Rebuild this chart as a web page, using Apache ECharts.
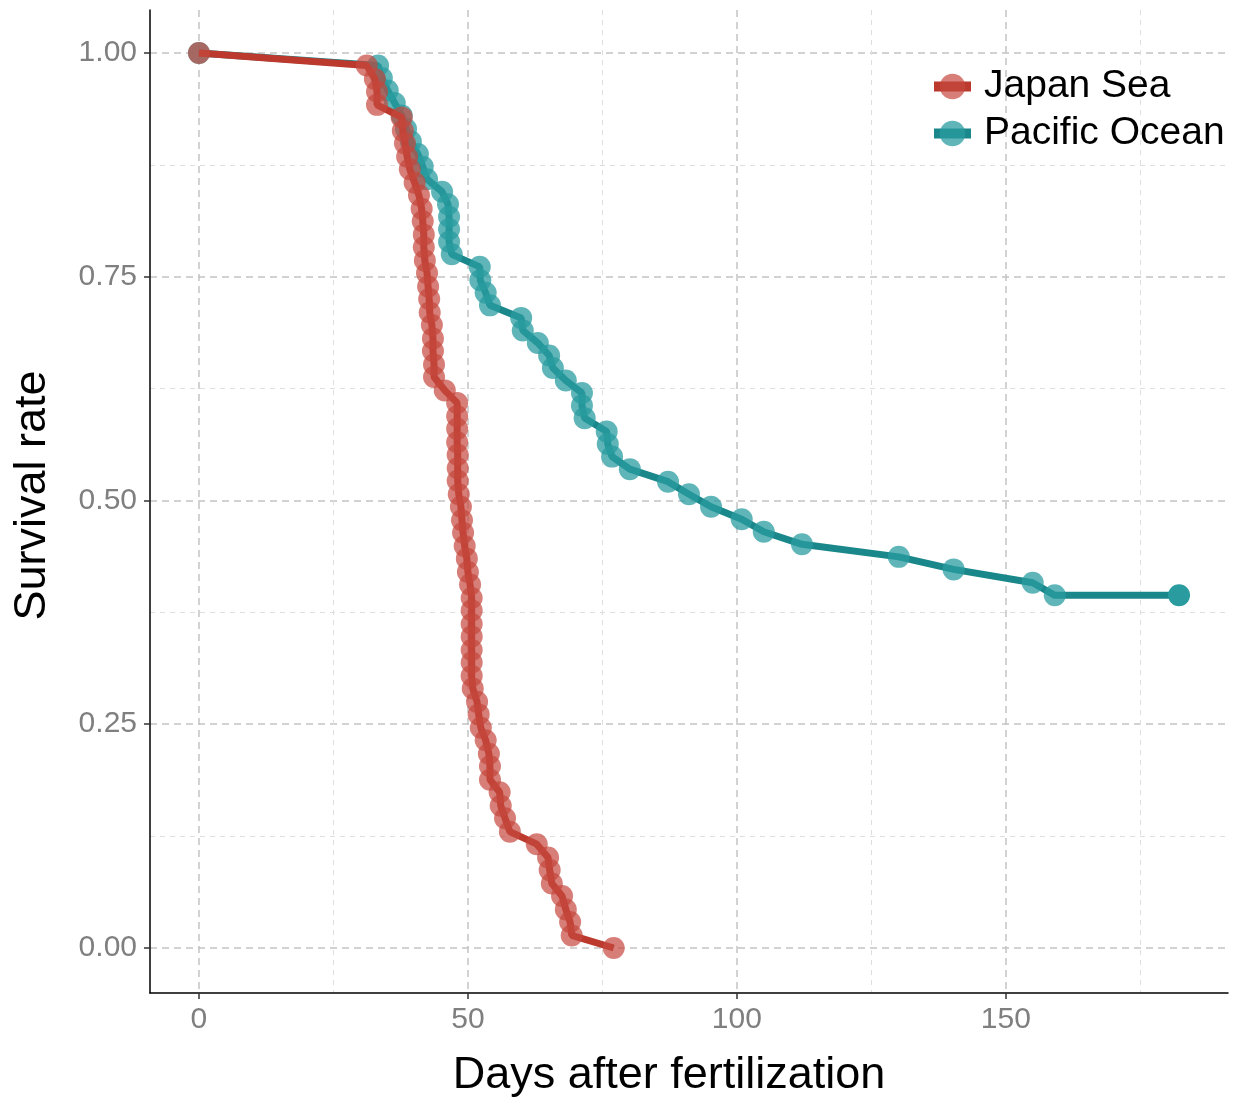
<!DOCTYPE html>
<html>
<head>
<meta charset="utf-8">
<script src="https://cdn.jsdelivr.net/npm/echarts@6/dist/echarts.min.js"></script>
<style>
  html, body { margin: 0; padding: 0; background: #fff; }
  #chart { width: 1233px; height: 1097px; }
</style>
</head>
<body>
<div id="chart"></div>
<script>
// Survival of larvae by origin (days after fertilization vs survival rate)
const japanDays = [0, 31.2, 32.7, 33.1, 33.1, 37.7, 37.9, 38.3, 38.7, 39.2, 40.1, 40.9, 41.4, 41.6, 41.8, 41.8, 42.0, 42.4, 42.6, 42.8, 42.9, 43.3, 43.5, 43.5, 43.7, 43.7, 45.7, 48.0, 48.0, 48.0, 48.0, 48.1, 48.1, 48.1, 48.3, 48.7, 48.9, 49.1, 49.4, 49.8, 50.0, 50.4, 50.7, 50.7, 50.7, 50.7, 50.7, 50.7, 50.7, 50.9, 51.7, 52.0, 52.4, 53.3, 53.9, 54.1, 54.1, 55.9, 56.1, 56.9, 57.8, 62.8, 64.9, 65.2, 65.6, 67.5, 68.2, 69.0, 69.3, 77.1];
const japanSurv = [1, 0.986, 0.971, 0.957, 0.942, 0.928, 0.913, 0.899, 0.884, 0.870, 0.855, 0.841, 0.826, 0.812, 0.797, 0.783, 0.768, 0.754, 0.739, 0.725, 0.710, 0.696, 0.681, 0.667, 0.652, 0.638, 0.623, 0.609, 0.594, 0.580, 0.565, 0.551, 0.536, 0.522, 0.507, 0.493, 0.478, 0.464, 0.449, 0.435, 0.420, 0.406, 0.391, 0.377, 0.362, 0.348, 0.333, 0.319, 0.304, 0.290, 0.275, 0.261, 0.246, 0.232, 0.217, 0.203, 0.188, 0.174, 0.159, 0.145, 0.130, 0.116, 0.101, 0.087, 0.072, 0.058, 0.043, 0.029, 0.014, 0];

const pacificDays = [0, 33.3, 34.0, 35.1, 36.4, 37.7, 38.5, 39.4, 40.7, 41.6, 42.4, 45.2, 46.3, 46.5, 46.5, 46.5, 47.0, 52.2, 52.3, 53.3, 54.1, 59.9, 60.2, 63.0, 65.1, 65.8, 68.2, 71.2, 71.2, 71.7, 75.8, 76.0, 76.8, 80.1, 87.2, 91.1, 95.2, 100.9, 105.0, 112.1, 130.1, 140.3, 155.0, 159.1, 182.2];
const pacificSurv = [1, 0.986, 0.972, 0.958, 0.944, 0.930, 0.915, 0.901, 0.887, 0.873, 0.859, 0.845, 0.831, 0.817, 0.803, 0.789, 0.775, 0.761, 0.746, 0.732, 0.718, 0.704, 0.690, 0.676, 0.662, 0.648, 0.634, 0.620, 0.606, 0.592, 0.577, 0.563, 0.549, 0.535, 0.521, 0.507, 0.493, 0.479, 0.465, 0.451, 0.437, 0.423, 0.408, 0.394, 0.394];

const seriesNames = ['Japan Sea', 'Pacific Ocean'];
const xTicks = [0, 50, 100, 150];
const xMinorTicks = [25, 75, 125, 175];
const yTicks = [0, 0.25, 0.5, 0.75, 1];
const yMinorTicks = [0.125, 0.375, 0.625, 0.875];

const FONT = '"Liberation Sans", Arial, Helvetica, sans-serif';
const RED_LINE = '#bc392e';
const RED_PT = '#c4473d';
const TEAL_LINE = '#1a878b';
const TEAL_PT = '#2a9ca0';

const majorGrid = { show: true, lineStyle: { color: '#c4c4c4', width: 1.5, type: [7, 5] } };
const minorGrid = { show: true, lineStyle: { color: '#dedede', width: 1, type: [5, 5] } };

function pairs(xs, ys) { return xs.map((x, i) => [x, ys[i]]); }

const pacificData = pairs(pacificDays, pacificSurv).map((p, i, arr) =>
  i === arr.length - 1 ? { value: p, itemStyle: { opacity: 1 } } : p);

const chart = echarts.init(document.getElementById('chart'), null, { renderer: 'canvas' });
chart.setOption({
  backgroundColor: '#ffffff',
  animation: false,
  textStyle: { fontFamily: FONT },
  grid: { left: 150, right: 5, top: 10, bottom: 104, outerBoundsMode: 'none', containLabel: false },
  legend: {
    data: seriesNames,
    orient: 'vertical',
    left: 924,
    top: 62,
    itemWidth: 37,
    itemHeight: 32,
    itemGap: 8,
    lineStyle: { width: 10 },
    textStyle: { fontSize: 39, lineHeight: 38, color: '#000', fontFamily: FONT, padding: [0, 0, 0, 8] }
  },
  xAxis: [
    {
      type: 'value', min: -9.1, max: 191.3,
      name: 'Days after fertilization', nameLocation: 'middle', nameGap: 60,
      nameTextStyle: { fontSize: 45, color: '#000', fontFamily: FONT, padding: [0, 40, 0, 0] },
      axisLine: { show: true, onZero: false, lineStyle: { color: '#000', width: 1.5 } },
      axisTick: { show: true, length: 6, customValues: xTicks, lineStyle: { color: '#333', width: 1.5 } },
      axisLabel: { customValues: xTicks, fontSize: 30, color: '#7f7f7f', margin: 12, fontFamily: FONT },
      splitLine: majorGrid
    },
    {
      type: 'value', min: -9.1, max: 191.3, position: 'top',
      axisLine: { show: false }, axisLabel: { show: false },
      axisTick: { show: false, customValues: xMinorTicks },
      splitLine: minorGrid
    }
  ],
  yAxis: [
    {
      type: 'value', min: -0.0503, max: 1.048,
      name: 'Survival rate', nameLocation: 'middle', nameGap: 95,
      nameTextStyle: { fontSize: 45, color: '#000', fontFamily: FONT, padding: [0, 0, 0, 12] },
      axisLine: { show: true, onZero: false, lineStyle: { color: '#000', width: 1.5 } },
      axisTick: { show: true, length: 6, customValues: yTicks, lineStyle: { color: '#333', width: 1.5 } },
      axisLabel: { customValues: yTicks, fontSize: 30, color: '#7f7f7f', margin: 13, fontFamily: FONT,
                   formatter: v => v.toFixed(2) },
      splitLine: majorGrid
    },
    {
      type: 'value', min: -0.0503, max: 1.048, position: 'right',
      axisLine: { show: false }, axisLabel: { show: false },
      axisTick: { show: false, customValues: yMinorTicks },
      splitLine: minorGrid
    }
  ],
  series: [
    {
      name: seriesNames[1], type: 'line', data: pacificData,
      xAxisIndex: 0, yAxisIndex: 0,
      symbol: 'circle', symbolSize: 22, showAllSymbol: true,
      lineStyle: { color: TEAL_LINE, width: 7 },
      itemStyle: { color: TEAL_PT, opacity: 0.75 },
      emphasis: { disabled: true }, z: 3
    },
    {
      name: seriesNames[0], type: 'line', data: pairs(japanDays, japanSurv),
      xAxisIndex: 0, yAxisIndex: 0,
      symbol: 'circle', symbolSize: 22, showAllSymbol: true,
      lineStyle: { color: RED_LINE, width: 7 },
      itemStyle: { color: RED_PT, opacity: 0.7 },
      emphasis: { disabled: true }, z: 4
    }
  ]
});
</script>
</body>
</html>
